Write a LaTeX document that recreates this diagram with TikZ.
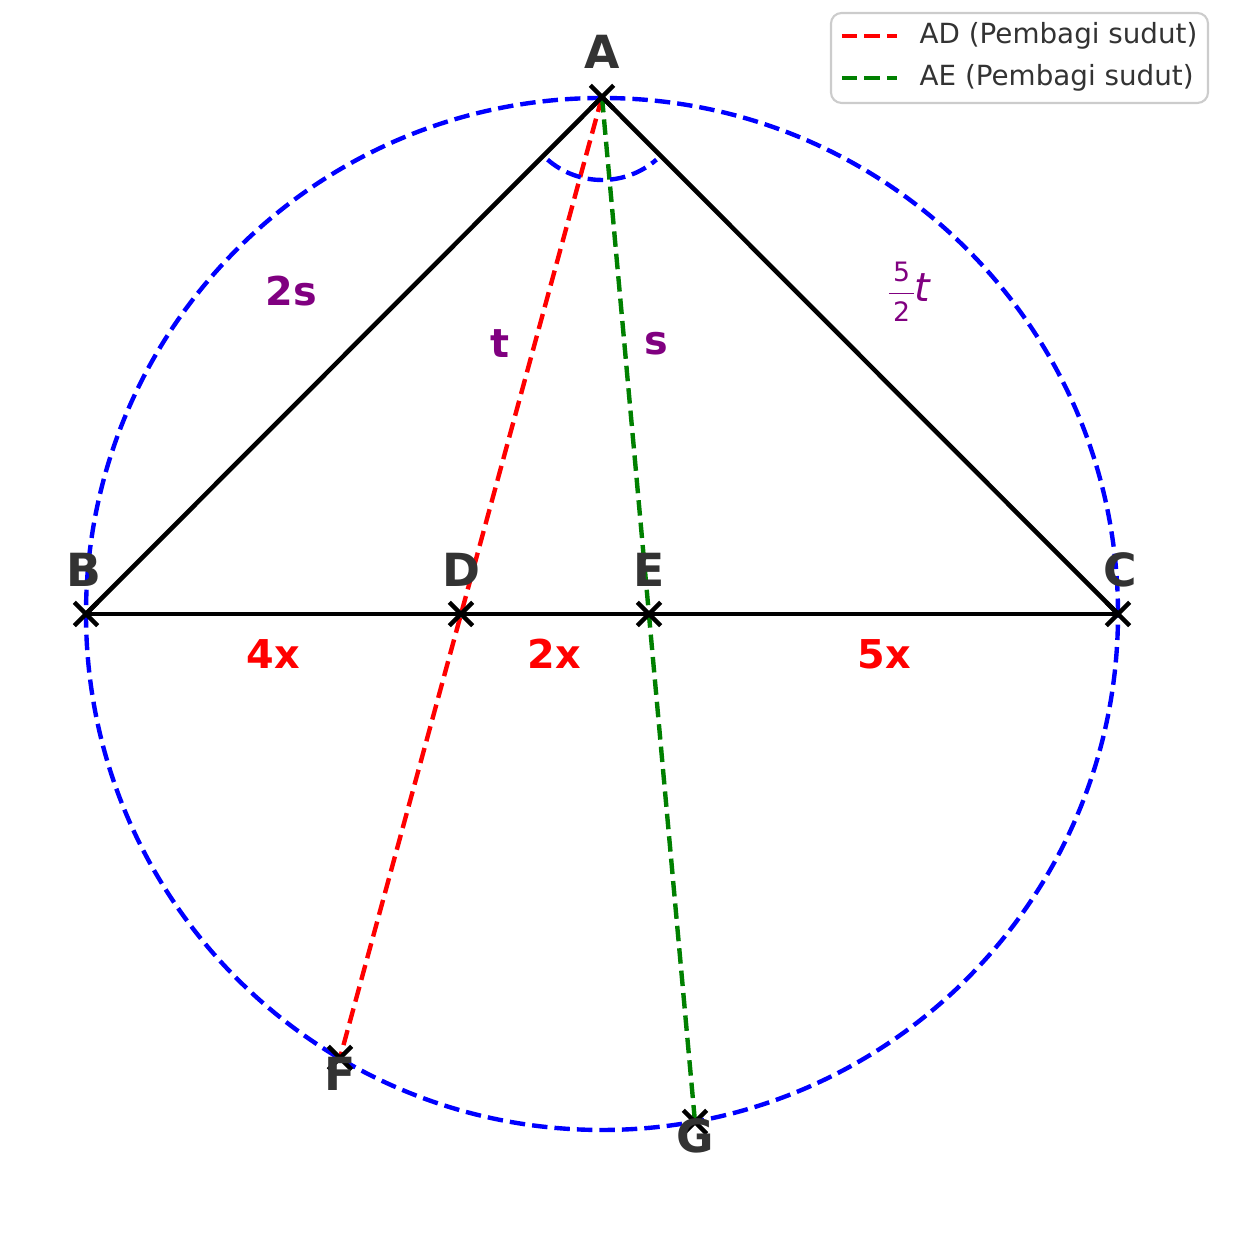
\documentclass[tikz,border=0pt]{standalone}
\usepackage{fontspec}
\setmainfont{DejaVu Sans}
\usetikzlibrary{shapes.misc}
\definecolor{txtgray}{gray}{0.2}
\definecolor{lblpurple}{RGB}{128,0,128}
\definecolor{dgreen}{RGB}{0,128,0}
\newcommand{\smallfrac}[2]{\ensuremath{\vcenter{\offinterlineskip\fontsize{7.6}{8}\selectfont
	\halign{\hfil##\hfil\cr \kern1.2pt#1\kern1.2pt\cr \noalign{\kern3pt\hrule height 0.5pt\kern2.2pt} #2\cr}}}}
\tikzset{
	xmark/.style={cross out,draw=black,line width=1.25pt,minimum size=0.19cm,inner sep=0pt},
	ptlabel/.style={text=txtgray,font=\fontsize{13}{15}\selectfont\bfseries},
	sidelabel/.style={text=lblpurple,font=\fontsize{11.3}{13}\selectfont\bfseries},
	seglabel/.style={text=red,font=\fontsize{11.3}{13}\selectfont\bfseries},
	legtext/.style={text=txtgray,font=\fontsize{7.9}{9}\selectfont,anchor=west,inner sep=0pt},
	dashline/.style={line width=1.25pt,dash pattern=on 4.4pt off 2pt},
}
\begin{document}
\begin{tikzpicture}
	\useasboundingbox (0,0) rectangle (12.6,12.5);
	\coordinate (O) at (6.02,6.36);
	\coordinate (A) at (6.02,11.53);
	\coordinate (B) at (0.86,6.36);
	\coordinate (C) at (11.18,6.36);
	\coordinate (D) at (4.61,6.36);
	\coordinate (E) at (6.49,6.36);
	\coordinate (F) at (3.40,1.92);
	\coordinate (G) at (6.95,1.28);
	
	\draw[blue,dashline] (O) circle (5.16);
	\draw[line width=1.3pt,line join=miter] (B) -- (A) -- (C);
	\draw[line width=1.3pt] (B) -- (C);
	\draw[red,dashline] (A) -- (F);
	\draw[dgreen,dashline] (A) -- (G);
	\draw[blue,dashline] (A) ++(229:0.83) arc[start angle=229,end angle=311,radius=0.83];
	
	\foreach \p in {A,B,C,D,E,F,G}
		\node[xmark] (m\p) at (\p) {};
	
	\node[ptlabel] (lA) at (6.02,11.98) {A};
	\node[ptlabel] (lB) at (0.84,6.80) {B};
	\node[ptlabel] (lC) at (11.20,6.80) {C};
	\node[ptlabel] (lD) at (4.61,6.80) {D};
	\node[ptlabel] (lE) at (6.49,6.80) {E};
	\node[ptlabel] (lF) at (3.40,1.76) {F};
	\node[ptlabel] (lG) at (6.95,1.14) {G};
	
	\node[sidelabel] (lAB) at (2.91,9.59) {2s};
	\node[sidelabel] (lAD) at (5.00,9.06) {t};
	\node[sidelabel] (lAE) at (6.56,9.06) {s};
	\node[text=lblpurple,font=\fontsize{11.3}{13}\selectfont] (lAC) at (9.10,9.58)
		{\smallfrac{5}{2}\textit{t}};
	
	\node[seglabel] (lBD) at (2.73,5.96) {4x};
	\node[seglabel] (lDE) at (5.54,5.96) {2x};
	\node[seglabel] (lEC) at (8.84,5.96) {5x};
	
	\node[draw=black!20,line width=0.6pt,rounded corners=3pt,fill=white,
		minimum width=3.77cm,minimum height=0.9cm] (legend) at (10.195,11.92) {};
	\coordinate (adL) at (8.42,12.14);
	\coordinate (adR) at (8.97,12.14);
	\coordinate (aeL) at (8.42,11.72);
	\coordinate (aeR) at (8.97,11.72);
	\draw[red,dashline] (adL) -- (adR);
	\draw[dgreen,dashline] (aeL) -- (aeR);
	\node[legtext] (adtext) at (9.19,12.14) {AD (Pembagi sudut)};
	\node[legtext] (aetext) at (9.19,11.72) {AE (Pembagi sudut)};
\end{tikzpicture}
\end{document}
